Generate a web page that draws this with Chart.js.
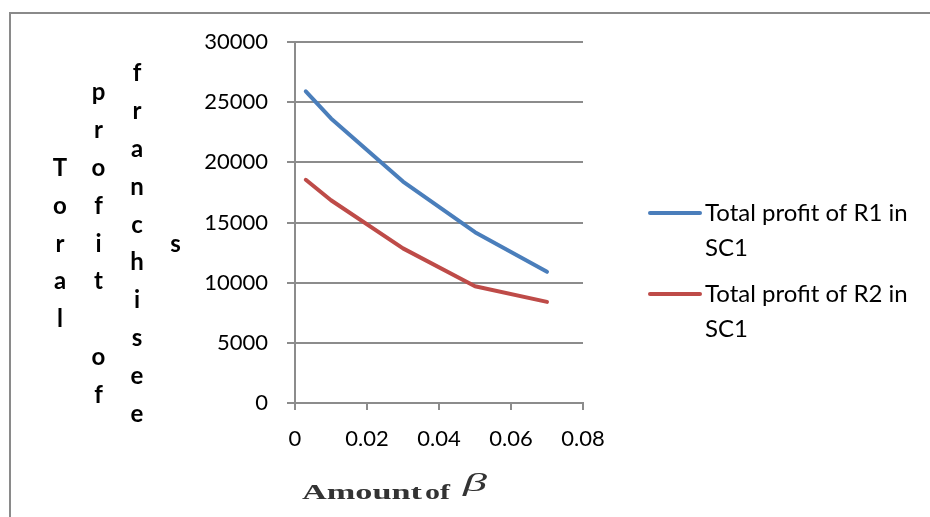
<!DOCTYPE html>
<html>
<head>
<meta charset="utf-8">
<script src="https://cdn.jsdelivr.net/npm/chart.js@4.4.1/dist/chart.umd.min.js"></script>
<style>
  html, body { margin: 0; padding: 0; background: #ffffff; }
  #wrap { width: 930px; height: 517px; position: relative; }
</style>
</head>
<body>
<div id="wrap"><canvas id="c"></canvas></div>
<script>
// ---- data ----
const betaValues = [0.003, 0.01, 0.03, 0.05, 0.07];
const profitR1 = [25900, 23650, 18400, 14200, 10900];
const profitR2 = [18550, 16850, 12850, 9700, 8400];
const seriesNames = ["Total profit of R1 in SC1", "Total profit of R2 in SC1"];
const legendLines = [["Total profit of R1 in", "SC1"], ["Total profit of R2 in", "SC1"]];
const xTickValues = [0, 0.02, 0.04, 0.06, 0.08];
const xTickLabels = ["0", "0.02", "0.04", "0.06", "0.08"];
const yTickValues = [0, 5000, 10000, 15000, 20000, 25000, 30000];
const yTickLabels = ["0", "5000", "10000", "15000", "20000", "25000", "30000"];
const yTitleColumns = ["Toral", "profit of", "franchisee", "s"];
const xTitleParts = ["Amount", "of", "β"];

// ---- styles ----
const colors = ["#4A7EBB", "#BE4B48"];
const gridColor = "#8c8c8c";
const tickFont = { family: "Lato", size: 22 };
const legendFontSize = 24;
const legendPad = 11;
const legendIconW = 45;
const PAD_BOTTOM = 6;

// measure the widest legend line to place the legend like the reference
const mctx = document.createElement("canvas").getContext("2d");
mctx.font = legendFontSize + "px Lato";
let legendTextW = 0;
legendLines.forEach(lines => lines.forEach(t => { legendTextW = Math.max(legendTextW, mctx.measureText(t).width); }));
const legendWidth = legendPad + legendIconW + legendFontSize / 2 + legendTextW + 10;
const legendLeft = 648 - legendPad;
const padRight = Math.max(0, 930 - legendLeft - legendWidth);
const gapWidth = legendLeft - 583;

function makeLineIcon(color) {
  const c = document.createElement("canvas");
  c.width = 63; c.height = 8;
  const g = c.getContext("2d");
  g.strokeStyle = color; g.lineWidth = 4; g.lineCap = "round";
  g.beginPath(); g.moveTo(11, 4); g.lineTo(61, 4); g.stroke();
  return c;
}

function drawStretched(ctx, text, font, x, y, targetW, color) {
  ctx.save();
  ctx.font = font;
  const w = ctx.measureText(text).width;
  ctx.translate(x, y);
  ctx.scale(targetW / w, 1);
  ctx.fillStyle = color;
  ctx.textAlign = "left";
  ctx.textBaseline = "alphabetic";
  ctx.fillText(text, 0, 0);
  ctx.restore();
}

const decorPlugin = {
  id: "decor",
  beforeLayout(chart) {
    const lg = chart.legend;
    if (lg && !lg.__wide) {
      const orig = lg.update;
      lg.update = function (mw, mh, margins) { return orig.call(this, Math.max(mw, 400), mh, margins); };
      lg.__wide = true;
    }
  },
  beforeDraw(chart) {
    const ctx = chart.ctx;
    ctx.save();
    ctx.fillStyle = "#ffffff";
    ctx.fillRect(0, 0, chart.width, chart.height);
    ctx.strokeStyle = "#8a8a8a";
    ctx.lineWidth = 2;
    ctx.beginPath();
    ctx.moveTo(10, chart.height);
    ctx.lineTo(10, 13);
    ctx.lineTo(chart.width, 13);
    ctx.stroke();
    ctx.restore();
  },
  afterDraw(chart) {
    const ctx = chart.ctx;
    ctx.save();
    // stacked y-axis title
    ctx.fillStyle = "#000000";
    ctx.font = "bold 24px Lato";
    ctx.textAlign = "center";
    ctx.textBaseline = "alphabetic";
    const colX = [60, 98.5, 137, 175.5];
    const midY = 251.5, step = 37.8;
    yTitleColumns.forEach((word, j) => {
      const chars = Array.from(word);
      const n = chars.length;
      chars.forEach((ch, i) => {
        if (ch === " ") return;
        ctx.fillText(ch, colX[j], midY + (i - (n - 1) / 2) * step);
      });
    });
    ctx.restore();
    // x-axis title (serif, horizontally stretched like the reference)
    drawStretched(ctx, xTitleParts[0], "bold 22px 'Liberation Serif'", 302, 499, 120, "#333333");
    drawStretched(ctx, xTitleParts[1], "bold 22px 'Liberation Serif'", 425, 499, 25, "#333333");
    drawStretched(ctx, xTitleParts[2], "italic 25px 'Liberation Serif'", 463, 491, 24, "#333333");
  }
};

function lineDataset(label, values, color) {
  return {
    label,
    data: betaValues.map((x, i) => ({ x, y: values[i] })),
    showLine: true,
    borderColor: color,
    backgroundColor: color,
    borderWidth: 4,
    pointRadius: 0,
    pointHoverRadius: 0,
    borderCapStyle: "round",
    borderJoinStyle: "round",
    tension: 0
  };
}

new Chart(document.getElementById("c"), {
  type: "scatter",
  data: {
    datasets: [
      lineDataset(seriesNames[0], profitR1, colors[0]),
      lineDataset(seriesNames[1], profitR2, colors[1])
    ]
  },
  options: {
    responsive: true,
    maintainAspectRatio: false,
    animation: false,
    events: [],
    layout: { padding: { top: 42, left: 0, right: padRight, bottom: PAD_BOTTOM } },
    plugins: {
      tooltip: { enabled: false },
      legend: {
        position: "right",
        align: "center",
        labels: {
          usePointStyle: true,
          pointStyleWidth: legendIconW,
          padding: legendPad,
          color: "#000000",
          font: { family: "Lato", size: legendFontSize, lineHeight: 35 / legendFontSize },
          generateLabels(chart) {
            const items = Chart.defaults.plugins.legend.labels.generateLabels(chart);
            items.forEach((it, i) => {
              it.text = legendLines[i];
              it.pointStyle = makeLineIcon(colors[i]);
              it.lineWidth = 0;
            });
            return items;
          }
        }
      }
    },
    scales: {
      x: {
        type: "linear",
        position: "bottom",
        min: 0,
        max: 0.08,
        afterBuildTicks(s) { s.ticks = xTickValues.map(v => ({ value: v })); },
        afterFit(s) { s.height = 517 - PAD_BOTTOM - 403; },
        ticks: {
          color: "#000000",
          font: tickFont,
          padding: 16,
          maxRotation: 0,
          autoSkip: false,
          callback: (v, i) => xTickLabels[i]
        },
        grid: {
          display: true,
          drawOnChartArea: false,
          drawTicks: true,
          tickLength: 7,
          color: gridColor,
          lineWidth: 2
        },
        border: { display: true, color: gridColor, width: 2 }
      },
      y: {
        type: "linear",
        position: "left",
        min: 0,
        max: 30000,
        afterBuildTicks(s) { s.ticks = yTickValues.map(v => ({ value: v })); },
        afterFit(s) { s.width = 295; },
        ticks: {
          color: "#000000",
          font: tickFont,
          padding: 19,
          autoSkip: false,
          callback: (v, i) => yTickLabels[i]
        },
        grid: {
          display: true,
          drawOnChartArea: true,
          drawTicks: true,
          tickLength: 8,
          color: gridColor,
          lineWidth: 2
        },
        border: { display: true, color: gridColor, width: 2 }
      },
      gap: {
        type: "linear",
        position: "right",
        display: true,
        grid: { display: false, drawTicks: false },
        ticks: { display: false },
        border: { display: false },
        afterFit(s) { s.width = gapWidth; }
      }
    }
  },
  plugins: [decorPlugin]
});
</script>
</body>
</html>
